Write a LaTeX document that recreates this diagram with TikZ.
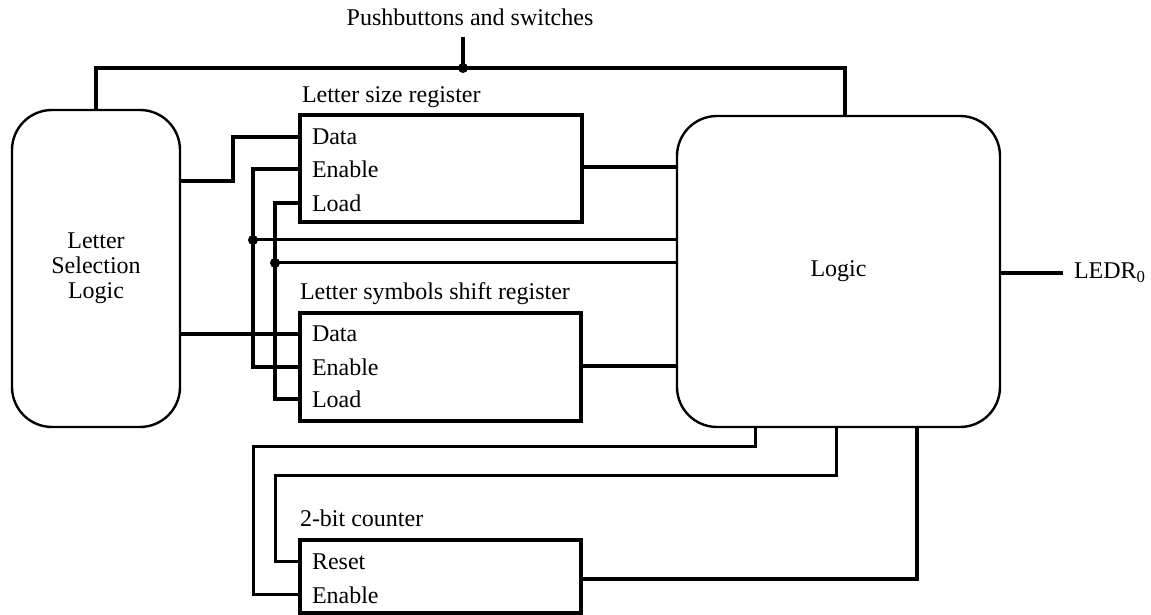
\documentclass[tikz,border=0pt]{standalone}
\usepackage{fontspec}
\setmainfont{Liberation Serif}
\begin{document}
\begin{tikzpicture}[x=1pt,y=1pt,
  every node/.style={font=\fontsize{24}{25}\selectfont, inner sep=0pt, outer sep=0pt},
  rbox/.style={draw, line width=2.4pt, rounded corners=40pt},
  regbox/.style={draw, line width=4.2pt},
  wire/.style={line width=3.8pt},
  thinwire/.style={line width=3.0pt},
  lbl/.style={anchor=base west},
  port/.style={anchor=west, xshift=12pt}]
\useasboundingbox (0,0) rectangle (1151,615);

% blocks
\node[rbox, minimum width=168pt, minimum height=317pt, align=center] (lsl) at (96,346.5) {Letter\\Selection\\Logic};
\node[rbox, minimum width=323pt, minimum height=311pt] (logic) at (838.5,343.5) {Logic};
\node[regbox, minimum width=282pt, minimum height=107pt] (lsr) at (441,446.5) {};
\node[regbox, minimum width=281pt, minimum height=108pt] (lssr) at (440.5,248) {};
\node[regbox, minimum width=281pt, minimum height=73pt] (cnt) at (440.5,38.5) {};

% titles
\node[lbl] (lsrT) at (302,512) {Letter size register};
\node[lbl] (lssrT) at (300,315) {Letter symbols shift register};
\node[lbl] (cntT) at (300,88) {2-bit counter};
\node[anchor=base] (pb) at (470,589) {Pushbuttons and switches};

% ports
\coordinate (lsrD) at (lsr.west |- 0,478);
\coordinate (lsrE) at (lsr.west |- 0,446);
\coordinate (lsrL) at (lsr.west |- 0,412);
\coordinate (lssrD) at (lssr.west |- 0,281);
\coordinate (lssrE) at (lssr.west |- 0,248);
\coordinate (lssrL) at (lssr.west |- 0,216);
\coordinate (cntR) at (cnt.west |- 0,53);
\coordinate (cntE) at (cnt.west |- 0,20);
\node[port] (lsrDl) at (lsrD) {Data};
\node[port] (lsrEl) at (lsrE) {Enable};
\node[port] (lsrLl) at (lsrL) {Load};
\node[port] (lssrDl) at (lssrD) {Data};
\node[port] (lssrEl) at (lssrE) {Enable};
\node[port] (lssrLl) at (lssrL) {Load};
\node[port] (cntRl) at (cntR) {Reset};
\node[port] (cntEl) at (cntE) {Enable};

% junctions
\coordinate (pbtop) at (463,578);
\coordinate (busdot) at (463,547);
\coordinate (dotE) at (253,375);
\coordinate (dotL) at (275,352);

% top bus
\draw[wire] (pbtop) -- (busdot);
\draw[wire] (lsl.north) |- (busdot) -| (logic.north -| 845,0);

% letter selection logic to registers
\draw[wire] (lsl.east |- 0,434) -- (233,434) |- (lsrD);
\draw[wire] (lsl.east |- 0,281) -- (lssrD);

% enable and load
\draw[wire] (lsrE) -| (dotE) |- (lssrE);
\draw[wire] (lsrL) -| (dotL) |- (lssrL);
\draw[thinwire] (dotE) -- (logic.west |- dotE);
\draw[thinwire] (dotL) -- (logic.west |- dotL);

% register outputs
\draw[wire] (lsr.east |- 0,448) -- (logic.west |- 0,448);
\draw[wire] (lssr.east |- 0,249) -- (logic.west |- 0,249);

% counter
\draw[thinwire] (cntR) -| (275,139) -| (logic.south -| 836,0);
\draw[thinwire] (cntE) -| (253,168) -| (logic.south -| 755,0);
\draw[wire] (cnt.east |- 0,36) -| (logic.south -| 917,0);

% output
\coordinate (ledr) at (1063,342);
\draw[wire] (logic.east |- ledr) -- (ledr);
\node[anchor=base west] (ledrT) at (1074,336) {LEDR\textsubscript{0}};

% dots
\fill (busdot) circle (5);
\fill (dotE) circle (5);
\fill (dotL) circle (5);
\end{tikzpicture}
\end{document}
